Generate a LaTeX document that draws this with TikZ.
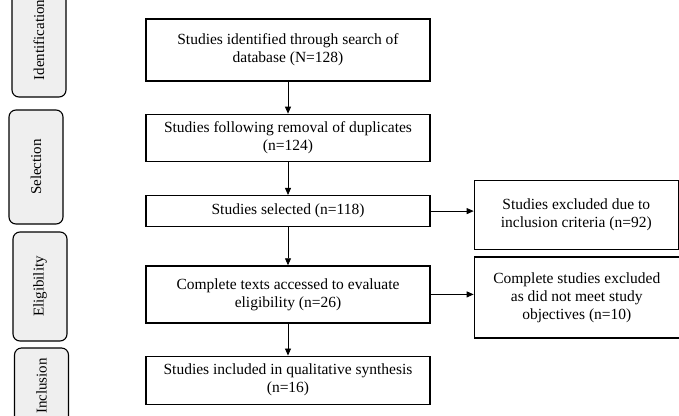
\documentclass[tikz,border=0pt]{standalone}
\usepackage{fontspec}
\setmainfont{Liberation Serif}
\usetikzlibrary{positioning,arrows.meta}
\definecolor{PhaseGray}{RGB}{239,239,239}

\begin{document}
\begin{tikzpicture}[x=1pt,y=-1pt,
node distance=32pt,
box/.style={rectangle,draw,line width=1.3pt,minimum width=284pt,inner sep=1pt,
align=center,font=\fontsize{15.5}{18}\selectfont},
sidebox/.style={rectangle,rounded corners=7pt,draw,line width=1.1pt,fill=PhaseGray,
rotate=90,minimum height=54pt,inner sep=1pt,font=\fontsize{15}{18}\selectfont},
arrow/.style={-{Triangle[length=7pt,width=6pt]},line width=0.8pt}
]
\useasboundingbox (0,0) rectangle (679,415);
% phase labels
\node[sidebox,minimum width=114pt] (ident) at (39,40) {Identification};
\node[sidebox,minimum width=114pt] (select) at (36,167) {Selection};
\node[sidebox,minimum width=109pt] (elig) at (40,286.5) {Eligibility};
\node[sidebox,minimum width=76pt] (incl) at (41.5,386) {Inclusion};
% main column
\node[box,minimum height=62pt] (found) at (288,50) {Studies identified through search of\\database (N=128)};
\node[box,minimum height=47pt,below=of found] (dedup) {Studies following removal of duplicates\\(n=124)};
\node[box,minimum height=31pt,below=33pt of dedup] (chosen) {Studies selected (n=118)};
\node[box,minimum height=57pt,below=38pt of chosen] (fulltext) {Complete texts accessed to evaluate\\eligibility (n=26)};
\node[box,minimum height=48pt,below=of fulltext] (incld) {Studies included in qualitative synthesis\\(n=16)};
% excluded boxes
\node[box,minimum width=204pt,minimum height=69pt,right=43pt of chosen,yshift=-4pt] (excl) {Studies excluded due to\\inclusion criteria (n=92)};
\node[box,minimum width=205pt,minimum height=81pt,right=43pt of fulltext,yshift=-3pt] (exclobj) {Complete studies excluded\\as did not meet study\\objectives (n=10)};
\draw[arrow] (found)--(dedup); \draw[arrow] (dedup)--(chosen); \draw[arrow] (chosen)--(fulltext); \draw[arrow] (fulltext)--(incld);
\draw[arrow] (chosen.east)--(chosen.east-|excl.west); \draw[arrow] (fulltext.east)--(fulltext.east-|exclobj.west);
\end{tikzpicture}
\end{document}
